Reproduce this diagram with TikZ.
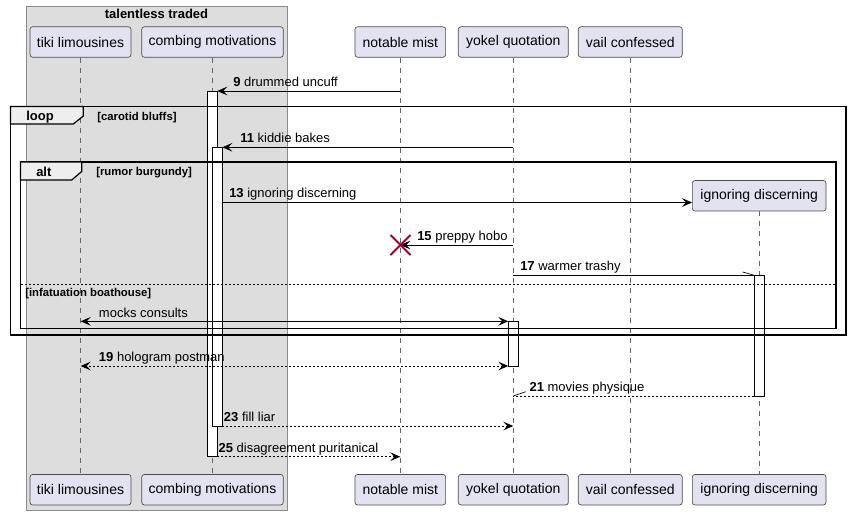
\documentclass[tikz,border=0pt]{standalone}
\usepackage{fontspec}
\setmainfont{Liberation Sans}
\usetikzlibrary{arrows.meta}
\definecolor{partfill}{HTML}{E2E2F0}
\definecolor{grpfill}{HTML}{DDDDDD}
\definecolor{tabfill}{HTML}{EEEEEE}
\definecolor{xred}{HTML}{A80036}
\begin{document}
\begin{tikzpicture}[x=0.75pt,y=-0.75pt,
  part/.style={draw=black!70, fill=partfill, rounded corners=2pt, line width=0.5pt,
    minimum width=#1*0.75pt, minimum height=30.5*0.75pt, inner sep=0pt,
    font=\fontsize{10.5}{12}\selectfont},
  lifeline/.style={draw=black!60, line width=0.5pt, dash pattern=on 3.75pt off 3.75pt},
  actbox/.style={draw=black, fill=white, line width=0.75pt},
  frame/.style={draw=black, line width=1.1pt},
  tab/.style={draw=black, fill=tabfill, line width=0.9pt},
  msg/.style={draw=black, line width=0.75pt, -{Stealth[length=7.5pt,width=6.5pt,inset=3pt]}},
  bimsg/.style={draw=black, line width=0.75pt, {Stealth[length=7.5pt,width=6.5pt,inset=3pt]}-{Stealth[length=7.5pt,width=6.5pt,inset=3pt]}},
  dmsg/.style={msg, dash pattern=on 1.5pt off 1.5pt},
  dbimsg/.style={bimsg, dash pattern=on 1.5pt off 1.5pt},
  half/.style={draw=black, line width=0.5pt},
  lbl/.style={anchor=base west, inner sep=0pt, font=\fontsize{9.75}{11}\selectfont},
  flbl/.style={anchor=base west, inner sep=0pt, font=\fontsize{8.5}{10}\selectfont\bfseries},
  tablbl/.style={anchor=base west, inner sep=0pt, font=\fontsize{9.75}{11}\selectfont\bfseries}
]
\useasboundingbox (0,0) rectangle (851,515);
\fill[white] (0,0) rectangle (851,515);

% group box
\draw[fill=grpfill, draw=black!45, line width=0.75pt] (26,6) rectangle (287.3,510.5);
\node[anchor=base, inner sep=0pt, font=\fontsize{9.75}{11}\selectfont\bfseries] (gtitle) at (156.5,18.5) {talentless traded};

% participants top
\node[part=101] (tikiT) at (80.5,42) {tiki limousines};
\node[part=141.6] (combT) at (212.5,42) {combing motivations};
\node[part=90.7] (notaT) at (400.3,42) {notable mist};
\node[part=110] (yokeT) at (513.3,42) {yokel quotation};
\node[part=104] (vailT) at (630.3,42) {vail confessed};
\node[part=133.7] (ignoT) at (759.2,195.8) {ignoring discerning};
% participants bottom
\node[part=101] (tikiB) at (80.5,489.7) {tiki limousines};
\node[part=141.6] (combB) at (212.5,489.7) {combing motivations};
\node[part=90.7] (notaB) at (400.3,489.7) {notable mist};
\node[part=110] (yokeB) at (513.3,489.7) {yokel quotation};
\node[part=104] (vailB) at (630.3,489.7) {vail confessed};
\node[part=133.7] (ignoB) at (759.2,489.7) {ignoring discerning};

% lifelines
\draw[lifeline] (tikiT.south) -- (tikiB.north);
\draw[lifeline] (combT.south) -- (combB.north);
\draw[lifeline] (notaT.south) -- (notaB.north);
\draw[lifeline] (yokeT.south) -- (yokeB.north);
\draw[lifeline] (vailT.south) -- (vailB.north);
\draw[lifeline] (ignoT.south) -- (ignoB.north);

% activations
\draw[actbox] (207.3,91) rectangle (217.3,456.7);
\draw[actbox] (212.3,147.3) rectangle (222.3,426);
\draw[actbox] (508.3,321.3) rectangle (518.3,366);
\draw[actbox] (754.3,275.3) rectangle (764.3,396);

% frames
\draw[frame] (10.5,106.5) rectangle (846,335);
\draw[tab] (10.5,106.5) -- (83.3,106.5) -- (83.3,116) -- (73.3,124) -- (10.5,124) -- cycle;
\node[tablbl] (looplbl) at (26,120.5) {loop};
\node[flbl] (loopcond) at (97,120) {[carotid bluffs]};

\draw[frame] (20.5,162) rectangle (836,328.5);
\draw[tab] (20.5,162) -- (81.7,162) -- (81.7,171.5) -- (71.7,180) -- (20.5,180) -- cycle;
\node[tablbl] (altlbl) at (36,176.5) {alt};
\node[flbl] (altcond) at (96,175) {[rumor burgundy]};
\draw[black, line width=0.6pt, dash pattern=on 1.5pt off 1.5pt] (21,284) -- (835.5,284);
\node[flbl] (elsecond) at (25,296) {[infatuation boathouse]};

% message endpoints
\coordinate (m9s) at (400.3,91);   \coordinate (m9e) at (217.3,91);
\coordinate (m11s) at (513.3,147.3); \coordinate (m11e) at (222.3,147.3);
\coordinate (m13s) at (222.3,202.5); \coordinate (m13e) at (ignoT.west |- 0,202.5);
\coordinate (m15s) at (513.3,245); \coordinate (m15e) at (400.3,245);
\coordinate (m17s) at (513.3,275.3); \coordinate (m17e) at (754.3,275.3); \coordinate (h17) at (742.7,272);
\coordinate (mcs) at (508.3,321.3); \coordinate (mce) at (80.7,321.3);
\coordinate (m19s) at (508.3,366); \coordinate (m19e) at (80.7,366);
\coordinate (m21s) at (754.3,396); \coordinate (m21e) at (513.3,396); \coordinate (h21) at (525.7,391.7);
\coordinate (m23s) at (222.3,426); \coordinate (m23e) at (513.3,426);
\coordinate (m25s) at (217.3,456.7); \coordinate (m25e) at (400.3,456.7);

% messages
\draw[msg] (m9s) -- (m9e);
\node[lbl] (l9) at (233,86.3) {\textbf{9} drummed uncuff};
\draw[msg] (m11s) -- (m11e);
\node[lbl] (l11) at (240,142.6) {\textbf{11} kiddie bakes};
\draw[msg] (m13s) -- (m13e);
\node[lbl] (l13) at (229,197.8) {\textbf{13} ignoring discerning};
\draw[msg] (m15s) -- (m15e);
\node[lbl] (l15) at (417,240.5) {\textbf{15} preppy hobo};
\draw[xred, line width=1.5pt] (390.5,235) -- (410.5,255) (390.5,255) -- (410.5,235);
\draw[half] (m17s) -- (m17e);
\draw[half] (h17) -- (m17e);
\node[lbl] (l17) at (520,270.8) {\textbf{17} warmer trashy};
\draw[bimsg] (mcs) -- (mce);
\node[lbl] (lmc) at (98.7,317) {mocks consults};
\draw[dbimsg] (m19s) -- (m19e);
\node[lbl] (l19) at (98.7,361.6) {\textbf{19} hologram postman};
\draw[half, dash pattern=on 1.5pt off 1.5pt] (m21s) -- (m21e);
\draw[half] (h21) -- (m21e);
\node[lbl] (l21) at (529.3,391.7) {\textbf{21} movies physique};
\draw[dmsg] (m23s) -- (m23e);
\node[lbl] (l23) at (223.7,421.5) {\textbf{23} fill liar};
\draw[dmsg] (m25s) -- (m25e);
\node[lbl] (l25) at (218.3,452.2) {\textbf{25} disagreement puritanical};
\end{tikzpicture}
\end{document}
